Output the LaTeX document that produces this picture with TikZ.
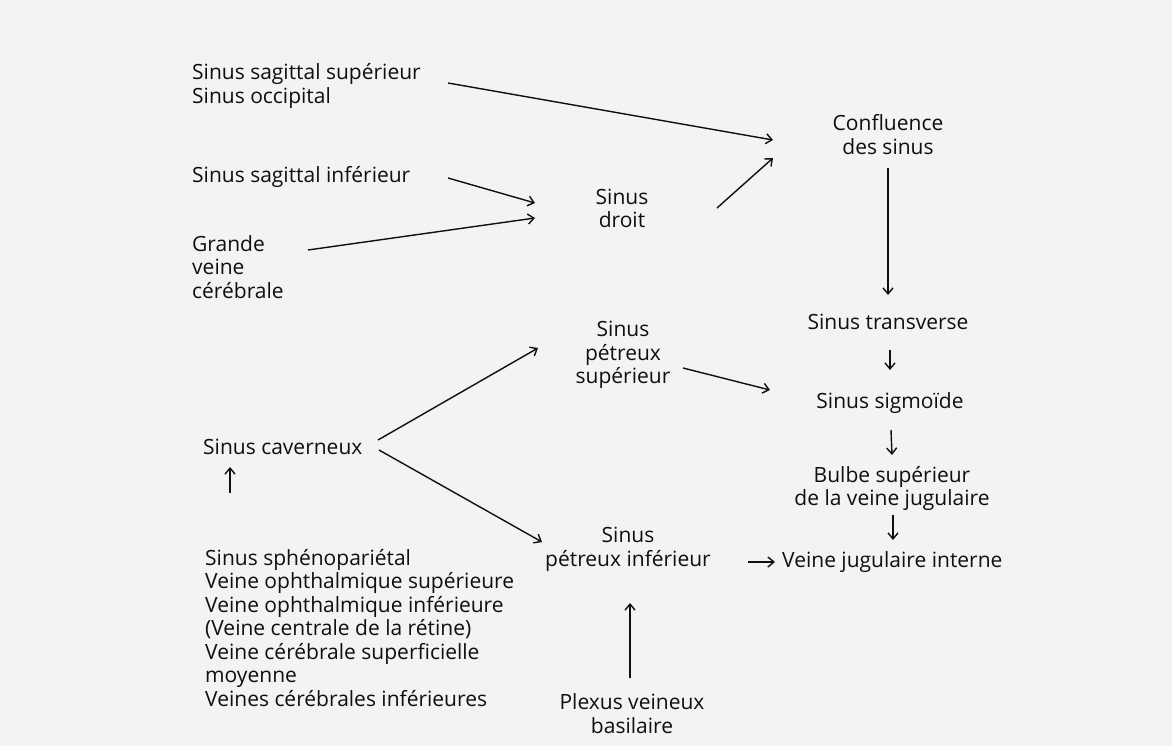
\documentclass[tikz,border=0pt]{standalone}
\usepackage{fontspec}
\setmainfont{Open Sans}
\usetikzlibrary{arrows.meta,calc}
\definecolor{bg}{RGB}{243,243,243}
\definecolor{ink}{RGB}{15,15,15}
\begin{document}
\begin{tikzpicture}[x=1pt,y=-1pt,
  lbl/.style={inner sep=0pt,text=ink,font=\fontsize{21}{23.5}\selectfont},
  lft/.style={lbl,align=left,anchor=west},
  ctr/.style={lbl,align=center},
  arr/.style={draw=ink,line width=1.4pt,-{Straight Barb[length=6pt,width=10pt,line width=1.4pt]}}]
\fill[bg] (0,0) rectangle (1172,746);
\useasboundingbox (0,0) rectangle (1172,746);
% nodes
\node[lft] (ssup) at (192,86) {Sinus sagittal supérieur\\Sinus occipital};
\node[lft] (sinf) at (192,177) {Sinus sagittal inférieur};
\node[lft] (gvc) at (192,267) {Grande\\veine\\cérébrale};
\node[ctr] (droit) at (622,208.5) {Sinus\\droit};
\node[ctr] (conf) at (888,134.5) {Confluence\\des sinus};
\node[ctr] (trans) at (888,322) {Sinus transverse};
\node[ctr] (petsup) at (623,355) {Sinus\\pétreux\\supérieur};
\node[ctr] (sigm) at (890,403) {Sinus sigmoïde};
\node[ctr] (bulbe) at (892,488.5) {Bulbe supérieur\\de la veine jugulaire};
\node[lft] (vji) at (782,562) {Veine jugulaire interne};
\node[ctr] (petinf) at (628,549.5) {Sinus\\pétreux inférieur};
\node[ctr] (plexus) at (632,713.5) {Plexus veineux\\basilaire};
\node[lft] (cav) at (203,447) {Sinus caverneux};
\node[lft] (list) at (205,628) {Sinus sphénopariétal\\Veine ophthalmique supérieure\\Veine ophthalmique inférieure\\(Veine centrale de la rétine)\\Veine cérébrale superficielle\\moyenne\\Veines cérébrales inférieures};
% connectors
\draw[arr] ($(ssup.west)+(256,-3)$) -- ($(conf)+(-115,5.5)$);
\draw[arr] ($(sinf.west)+(256,1)$) -- ($(droit)+(-87,-5.5)$);
\draw[arr] ($(gvc.west)+(116,-17)$) -- ($(droit)+(-87,9.5)$);
\draw[arr] ($(droit)+(95,-0.5)$) -- ($(conf)+(-115,23.5)$);
\draw[arr] ($(conf)+(0,33.5)$) -- ($(trans)+(0,-27)$);
\draw[arr] ($(trans)+(2,28)$) -- ($(sigm)+(0,-33)$);
\draw[arr] ($(sigm)+(1,27)$) -- ($(bulbe)+(0,-33.5)$);
\draw[arr] ($(bulbe)+(1,26.5)$) -- ($(vji.west)+(111,-22)$);
\draw[arr] ($(petinf)+(120,12.5)$) -- ($(vji.west)+(-7,0)$);
\draw[arr] ($(plexus)+(-2,-35.5)$) -- ($(petinf)+(2,53.5)$);
\draw[arr] ($(cav.west)+(175,-7)$) -- ($(petsup)+(-85,-7)$);
\draw[arr] ($(cav.west)+(176,3)$) -- ($(petinf)+(-86,-7.5)$);
\draw[arr] ($(list.west)+(25,-135)$) -- ($(cav.west)+(27,20)$);
\draw[arr] ($(petsup)+(60,13)$) -- ($(sigm)+(-120,-13)$);
\end{tikzpicture}
\end{document}
